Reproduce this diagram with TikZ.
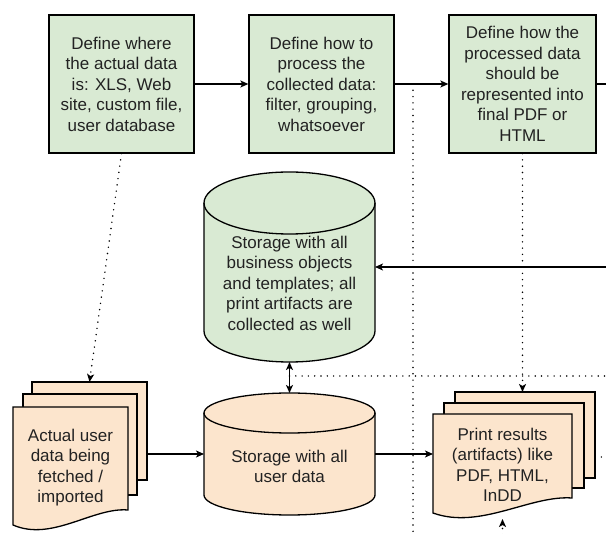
\documentclass[tikz,border=0pt]{standalone}
\usepackage{fontspec}
\setmainfont{Liberation Sans}
\usetikzlibrary{arrows.meta}
\definecolor{gfill}{HTML}{D9EAD3}
\definecolor{ofill}{HTML}{FCE5CD}
\definecolor{txtc}{HTML}{222222}
\begin{document}
\begin{tikzpicture}[x=1pt,y=-1pt,
  lbl/.style={inner sep=0pt,align=center,text=txtc,font=\fontsize{17}{20.5}\selectfont},
  box/.style={lbl,draw=black,line width=1.3pt,fill=gfill,minimum width=145pt,minimum height=138pt},
  ghost/.style={inner sep=0pt,outer sep=0pt},
  shp/.style={draw=black,line width=1.3pt},
  page/.style={shp,fill=ofill,inner sep=0pt,outer sep=0pt},
  conn/.style={line width=1.3pt,-{Stealth[length=8pt,width=7pt,inset=2pt]}},
  dconn/.style={line width=1.6pt,line cap=round,dash pattern=on 0pt off 6.3pt},
  darr/.style={dconn,-{Stealth[length=8pt,width=7pt,inset=2pt]}}
]
\clip (0,0) rectangle (606,534);

% top boxes
\node[box] (b1) at (121.5,84) {Define where\\the actual data\\is: XLS, Web\\site, custom file,\\user database};
\node[box] (b2) at (321.5,84) {Define how to\\process the\\collected data:\\filter, grouping,\\whatsoever};
\node[box,minimum width=147pt] (b3) at (522.5,84) {Define how the\\processed data\\should be\\represented into\\final PDF or\\HTML};

% green cylinder
\node[ghost,minimum width=171pt,minimum height=190pt] (gcyl) at (289.5,267) {};
\path[shp,fill=gfill] ([yshift=-31pt]gcyl.north west) -- ([yshift=31pt]gcyl.south west)
  arc[start angle=180,end angle=360,x radius=85.5pt,y radius=31pt]
  -- ([yshift=-31pt]gcyl.north east)
  arc[start angle=0,end angle=180,x radius=85.5pt,y radius=31pt] -- cycle;
\draw[shp] ([yshift=-31pt]gcyl.north west) arc[start angle=180,end angle=360,x radius=85.5pt,y radius=31pt];
\node[lbl] (gtext) at (289.5,283) {Storage with all\\business objects\\and templates; all\\print artifacts are\\collected as well};

% orange cylinder
\node[ghost,minimum width=171pt,minimum height=122pt] (ocyl) at (289.5,454) {};
\path[shp,fill=ofill] ([yshift=-20pt]ocyl.north west) -- ([yshift=20pt]ocyl.south west)
  arc[start angle=180,end angle=360,x radius=85.5pt,y radius=20pt]
  -- ([yshift=-20pt]ocyl.north east)
  arc[start angle=0,end angle=180,x radius=85.5pt,y radius=20pt] -- cycle;
\draw[shp] ([yshift=-20pt]ocyl.north west) arc[start angle=180,end angle=360,x radius=85.5pt,y radius=20pt];
\node[lbl] (otext) at (289.5,466.5) {Storage with all\\user data};

% left document stack
\node[page,minimum width=115pt,minimum height=98pt] (lsback) at (89.5,431) {};
\node[page,minimum width=114pt,minimum height=101pt] (lsmid) at (80,444.5) {};
\filldraw[page] (13,407) -- (128,407) -- (128,510) .. controls (93,507) and (52,542) .. (13,525) -- cycle;
\node[lbl] (lstext) at (70.5,467.5) {Actual user\\data being\\fetched /\\imported};

% right document stack
\node[page,minimum width=140pt,minimum height=86pt] (rsback) at (525,435) {};
\node[page,minimum width=140pt,minimum height=85pt] (rsmid) at (514,445.5) {};
\filldraw[page] (433,414) -- (572,414) -- (572,498) .. controls (530,495) and (480,530) .. (433,513) -- cycle;
\node[ghost,minimum width=139pt,minimum height=105pt] (rsf) at (502.5,466.5) {};
\node[lbl] (rstext) at (502.5,465) {Print results\\(artifacts) like\\PDF, HTML,\\InDD};

% solid connectors
\draw[conn] (b1.east) -- (b2.west);
\draw[conn] (b2.east) -- (b3.west);
\coordinate (outr) at (640,84);
\draw[conn] (b3.east) -- (outr) |- (gcyl.east);
\draw[line width=1.3pt,{Stealth[length=8pt,width=7pt,inset=2pt]}-{Stealth[length=8pt,width=7pt,inset=2pt]}] (gcyl.south) -- (ocyl.north);
\draw[conn] (lsback.east |- ocyl.west) -- (ocyl.west);
\draw[conn] (ocyl.east) -- (rsf.west |- ocyl.east);

% dotted connectors
\draw[darr] (b1.south) -- (lsback.north);
\draw[darr] (b3.south) -- (b3.south |- rsback.north);
\coordinate (v1) at (413,84);
\coordinate (v2) at (413,560);
\draw[dconn] (v1) -- (v2);
\coordinate (h1) at (289.5,376);
\coordinate (h2) at (640,376);
\draw[dconn] (h1) -- (h2);
\coordinate (r2) at (640,457);
\draw[dconn] (rsback.east |- r2) -- (r2);
\coordinate (bt) at (502.5,560);
\draw[darr] (bt) -- (rsf.south);
\end{tikzpicture}
\end{document}
